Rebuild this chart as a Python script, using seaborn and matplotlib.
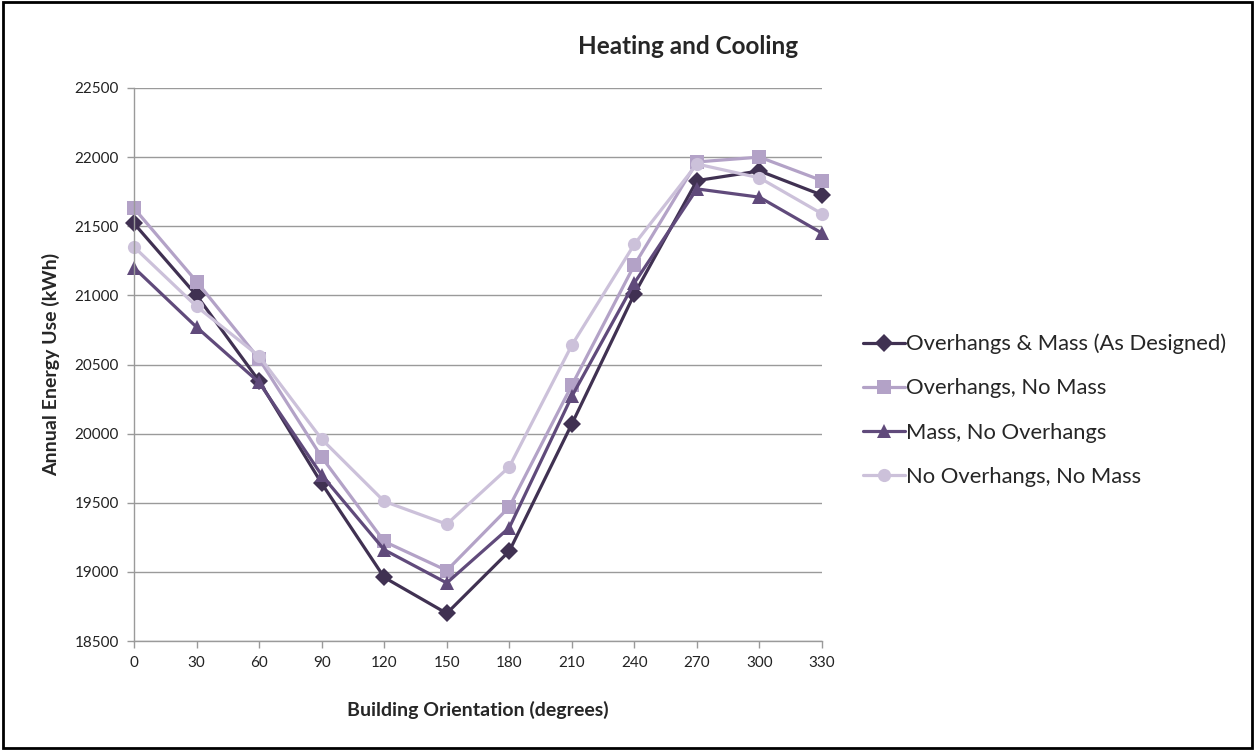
import pandas as pd
import matplotlib.pyplot as plt
import seaborn as sns
from matplotlib.patches import Rectangle

orientation = [0, 30, 60, 90, 120, 150, 180, 210, 240, 270, 300, 330]

overhangs_mass = [21520, 21000, 20380, 19640, 18960, 18700, 19150, 20070, 21010, 21830, 21900, 21725]
overhangs_no_mass = [21630, 21100, 20540, 19830, 19220, 19010, 19470, 20350, 21220, 21965, 22000, 21830]
mass_no_overhangs = [21200, 20770, 20370, 19700, 19160, 18920, 19320, 20270, 21090, 21770, 21710, 21450]
no_overhangs_no_mass = [21350, 20920, 20560, 19960, 19510, 19345, 19760, 20640, 21370, 21950, 21850, 21590]

series_names = ['Overhangs & Mass (As Designed)', 'Overhangs, No Mass',
                'Mass, No Overhangs', 'No Overhangs, No Mass']
series_values = [overhangs_mass, overhangs_no_mass, mass_no_overhangs, no_overhangs_no_mass]
colors = ['#403152', '#B3A2C7', '#604A7B', '#CCC1DA']
markers = ['D', 's', '^', 'o']

rows = []
for name, vals in zip(series_names, series_values):
    for pos, (o, v) in enumerate(zip(orientation, vals)):
        rows.append({'pos': pos, 'Orientation': o, 'Energy': v, 'Series': name})
df = pd.DataFrame(rows)

sns.set_style('white')
plt.rcParams['font.family'] = ['Lato', 'DejaVu Sans']

fig = plt.figure(figsize=(12.55, 7.5), dpi=100)
ax = fig.add_axes([0.1068, 0.1453, 0.5482, 0.7374])

sns.lineplot(data=df, x='pos', y='Energy', hue='Series', style='Series',
             hue_order=series_names, style_order=series_names,
             palette=colors, markers=markers, dashes=False,
             linewidth=2.3, markersize=9.5, markeredgewidth=0, ax=ax)
for line in ax.lines:
    line.set_clip_on(False)

ax.set_xlim(0, len(orientation) - 1)
ax.set_ylim(18500, 22500)
ax.set_xticks(range(len(orientation)))
ax.set_xticklabels([str(o) for o in orientation])
ax.set_yticks(range(18500, 22501, 500))
ax.yaxis.grid(True, color='#9a9a9a', linewidth=1)
ax.xaxis.grid(False)
ax.set_axisbelow(True)
for side in ['top', 'right']:
    ax.spines[side].set_visible(False)
for side in ['left', 'bottom']:
    ax.spines[side].set_color('#9a9a9a')
    ax.spines[side].set_linewidth(1)
ax.tick_params(axis='both', which='both', direction='out', length=5, width=1,
               color='#9a9a9a', labelsize=11, labelcolor='#222222', pad=6, bottom=True, left=True)

ax.set_xlabel('Building Orientation (degrees)', fontsize=14, fontweight='bold', labelpad=22)
ax.set_ylabel('Annual Energy Use (kWh)', fontsize=14, fontweight='bold', labelpad=10)

fig.text(0.548, 0.938, 'Heating and Cooling', ha='center', va='center',
         fontsize=17.5, fontweight='bold')

handles, labels = ax.get_legend_handles_labels()
ax.legend(handles, labels, loc='center left', bbox_to_anchor=(0.679, 0.453),
          bbox_transform=fig.transFigure, frameon=False, fontsize=15.8,
          handlelength=1.9, handletextpad=0.05, labelspacing=1.1, borderpad=0)

fig.patches.append(Rectangle((0.002, 0.003), 0.996, 0.994, transform=fig.transFigure,
                             fill=False, edgecolor='black', linewidth=2))

fig.savefig('out.png', dpi=100)
